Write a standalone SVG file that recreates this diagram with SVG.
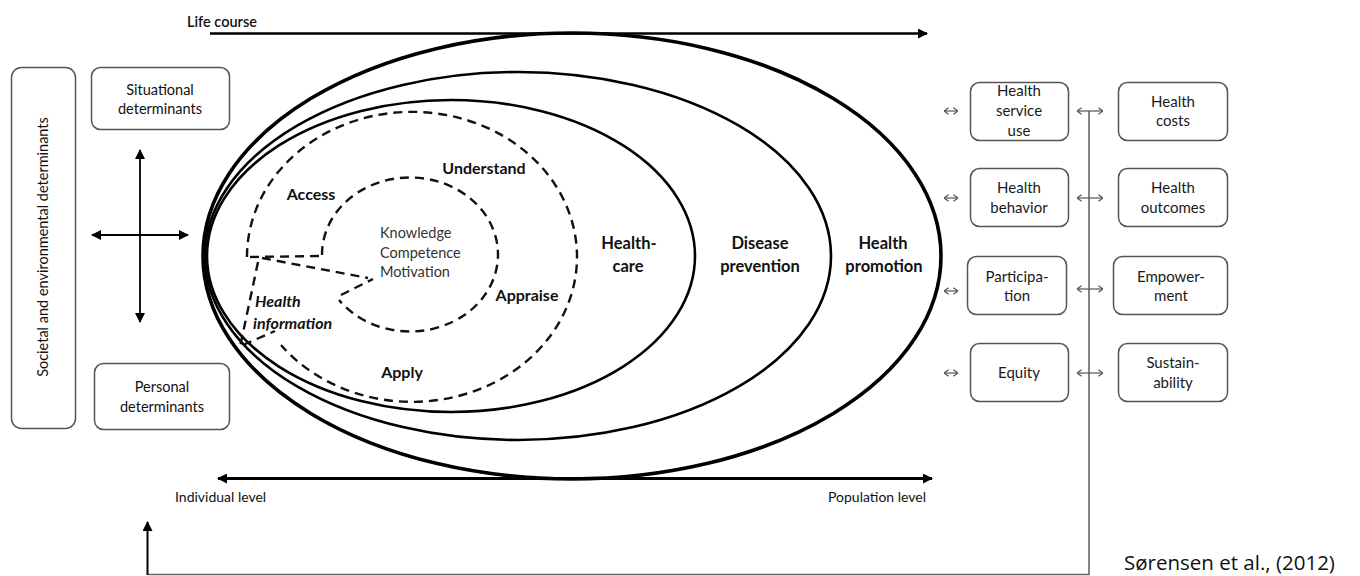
<svg xmlns="http://www.w3.org/2000/svg" width="1360" height="576" viewBox="0 0 1360 576">
<style>
text{font-family:Lato,"Open Sans","Liberation Sans",sans-serif;fill:#111}
.box{fill:none;stroke:#555;stroke-width:1.5}
.bl{font-size:14.5px;text-anchor:middle}
.rb{font-size:15px;text-anchor:middle;fill:#1a1a1a}
.big{font-size:16.5px;font-weight:bold;text-anchor:middle}
.dim{font-size:16px;font-weight:bold;text-anchor:middle}
.ell{fill:none;stroke:#000}
.dash{fill:none;stroke:#111;stroke-width:2.4;stroke-dasharray:9 6}
.ax{fill:none;stroke:#000}
.sm{fill:none;stroke:#555;stroke-width:1.2}
</style>
<defs>
<marker id="ah" viewBox="0 0 10 10" refX="9" refY="5" markerUnits="userSpaceOnUse" markerWidth="12" markerHeight="10" orient="auto-start-reverse"><path d="M0,0 L10,5 L0,10 z" fill="#000"/></marker>
<marker id="ah2" viewBox="0 0 10 10" refX="9" refY="5" markerUnits="userSpaceOnUse" markerWidth="11" markerHeight="10" orient="auto-start-reverse"><path d="M0,0 L10,5 L0,10 z" fill="#000"/></marker>
<marker id="ch" viewBox="0 0 6 8" refX="5.5" refY="4" markerUnits="userSpaceOnUse" markerWidth="5.5" markerHeight="7.5" orient="auto-start-reverse"><path d="M0.5,0.5 L5.5,4 L0.5,7.5" fill="none" stroke="#555" stroke-width="1.3"/></marker>
</defs>

<g id="ellipses">
<ellipse class="ell" cx="572" cy="256" rx="369" ry="223" stroke-width="3.6"/>
<ellipse class="ell" cx="518" cy="256" rx="313" ry="184" stroke-width="2.6"/>
<ellipse class="ell" cx="451" cy="256" rx="244" ry="156" stroke-width="2.6"/>
</g>

<g id="dashed-loops">
<path class="dash" d="M247,257 A165,145 0 1 1 281,345"/>
<path class="dash" d="M322,255 A88,77 0 1 1 339,300"/>
<path class="dash" d="M250,257 L322,256"/>
<path class="dash" d="M262,258 L368,278"/>
<path class="dash" d="M341,295 L373,279"/>
<path class="dash" d="M258,262 L240,347"/>
<path class="dash" d="M243,345 L275,331"/>
</g>

<g id="connectors">
<line class="ax" x1="210" y1="33.5" x2="927" y2="33.5" stroke-width="2.6" marker-end="url(#ah)"/>
<line class="ax" x1="218" y1="478.5" x2="932" y2="478.5" stroke-width="3" marker-start="url(#ah)" marker-end="url(#ah)"/>
<line class="ax" x1="140" y1="150" x2="140" y2="322" stroke-width="1.8" marker-start="url(#ah2)" marker-end="url(#ah2)"/>
<line class="ax" x1="92" y1="235" x2="188" y2="235" stroke-width="1.8" marker-start="url(#ah2)" marker-end="url(#ah2)"/>
<path d="M1089,111 V574.5 H147.5" fill="none" stroke="#666" stroke-width="1.6"/>
<line class="ax" x1="147.5" y1="575" x2="147.5" y2="522" stroke-width="2" marker-end="url(#ah2)"/>
<line class="sm" x1="944" y1="111" x2="958" y2="111" marker-start="url(#ch)" marker-end="url(#ch)"/>
<line class="sm" x1="944" y1="198" x2="958" y2="198" marker-start="url(#ch)" marker-end="url(#ch)"/>
<line class="sm" x1="944" y1="291" x2="958" y2="291" marker-start="url(#ch)" marker-end="url(#ch)"/>
<line class="sm" x1="944" y1="373" x2="958" y2="373" marker-start="url(#ch)" marker-end="url(#ch)"/>
<line class="sm" x1="1077" y1="111" x2="1103" y2="111" marker-start="url(#ch)" marker-end="url(#ch)"/>
<line class="sm" x1="1077" y1="198" x2="1103" y2="198" marker-start="url(#ch)" marker-end="url(#ch)"/>
<line class="sm" x1="1077" y1="289" x2="1103" y2="289" marker-start="url(#ch)" marker-end="url(#ch)"/>
<line class="sm" x1="1077" y1="373" x2="1103" y2="373" marker-start="url(#ch)" marker-end="url(#ch)"/>
</g>

<g id="axis-labels">
<text x="187" y="27" style="font-size:14.5px;font-weight:600">Life course</text>
<text x="175" y="502" style="font-size:14px">Individual level</text>
<text x="828" y="502" style="font-size:14px">Population level</text>
</g>

<g id="societal">
<rect class="box" x="11.5" y="67.5" width="64" height="361" rx="10"/>
<text class="bl" transform="translate(48,247) rotate(-90)">Societal and environmental determinants</text>
</g>
<g id="situational">
<rect class="box" x="91.5" y="67.5" width="138" height="62" rx="9"/>
<text class="bl" x="160" y="94.5">Situational</text>
<text class="bl" x="160" y="114">determinants</text>
</g>
<g id="personal">
<rect class="box" x="94.5" y="363.5" width="135" height="66" rx="9"/>
<text class="bl" x="162" y="392">Personal</text>
<text class="bl" x="162" y="412">determinants</text>
</g>

<g id="inner-labels">
<text class="dim" x="311" y="200">Access</text>
<text class="dim" x="484" y="174">Understand</text>
<text class="dim" x="527" y="301">Appraise</text>
<text class="dim" x="402" y="378">Apply</text>
<text x="255" y="307" style="font-size:16px;font-weight:bold;font-style:italic">Health</text>
<text x="253" y="329" style="font-size:16px;font-weight:bold;font-style:italic">information</text>
<text x="380" y="238" style="font-size:14.5px;fill:#333">Knowledge</text>
<text x="380" y="258" style="font-size:14.5px;fill:#333">Competence</text>
<text x="380" y="277" style="font-size:14.5px;fill:#333">Motivation</text>
</g>

<g id="ring-labels">
<text class="big" x="629" y="249">Health-</text>
<text class="big" x="628" y="272">care</text>
<text class="big" x="760" y="249">Disease</text>
<text class="big" x="760" y="272">prevention</text>
<text class="big" x="883" y="249">Health</text>
<text class="big" x="884" y="272">promotion</text>
</g>

<g id="health-service-use">
<rect class="box" x="970.5" y="82.5" width="98" height="58" rx="9"/>
<text class="rb" x="1019" y="96">Health</text>
<text class="rb" x="1019" y="116">service</text>
<text class="rb" x="1019" y="136">use</text>
</g>
<g id="health-behavior">
<rect class="box" x="970.5" y="168.5" width="98" height="58" rx="9"/>
<text class="rb" x="1019" y="193">Health</text>
<text class="rb" x="1019" y="213">behavior</text>
</g>
<g id="participation">
<rect class="box" x="967.5" y="256.5" width="99" height="58" rx="9"/>
<text class="rb" x="1017" y="282">Participa-</text>
<text class="rb" x="1017" y="301">tion</text>
</g>
<g id="equity">
<rect class="box" x="970.5" y="343.5" width="98" height="58" rx="9"/>
<text class="rb" x="1019" y="378">Equity</text>
</g>
<g id="health-costs">
<rect class="box" x="1118.5" y="82.5" width="109" height="58" rx="9"/>
<text class="rb" x="1173" y="107">Health</text>
<text class="rb" x="1173" y="126">costs</text>
</g>
<g id="health-outcomes">
<rect class="box" x="1118.5" y="168.5" width="109" height="58" rx="9"/>
<text class="rb" x="1173" y="193">Health</text>
<text class="rb" x="1173" y="213">outcomes</text>
</g>
<g id="empowerment">
<rect class="box" x="1113.5" y="256.5" width="114" height="58" rx="9"/>
<text class="rb" x="1171" y="282">Empower-</text>
<text class="rb" x="1171" y="301">ment</text>
</g>
<g id="sustainability">
<rect class="box" x="1118.5" y="343.5" width="109" height="58" rx="9"/>
<text class="rb" x="1173" y="368">Sustain-</text>
<text class="rb" x="1173" y="388">ability</text>
</g>

<text x="1124" y="570" style="font-family:'Open Sans','Liberation Sans',sans-serif;font-size:20.5px;fill:#111">Sørensen et al., (2012)</text>
</svg>
